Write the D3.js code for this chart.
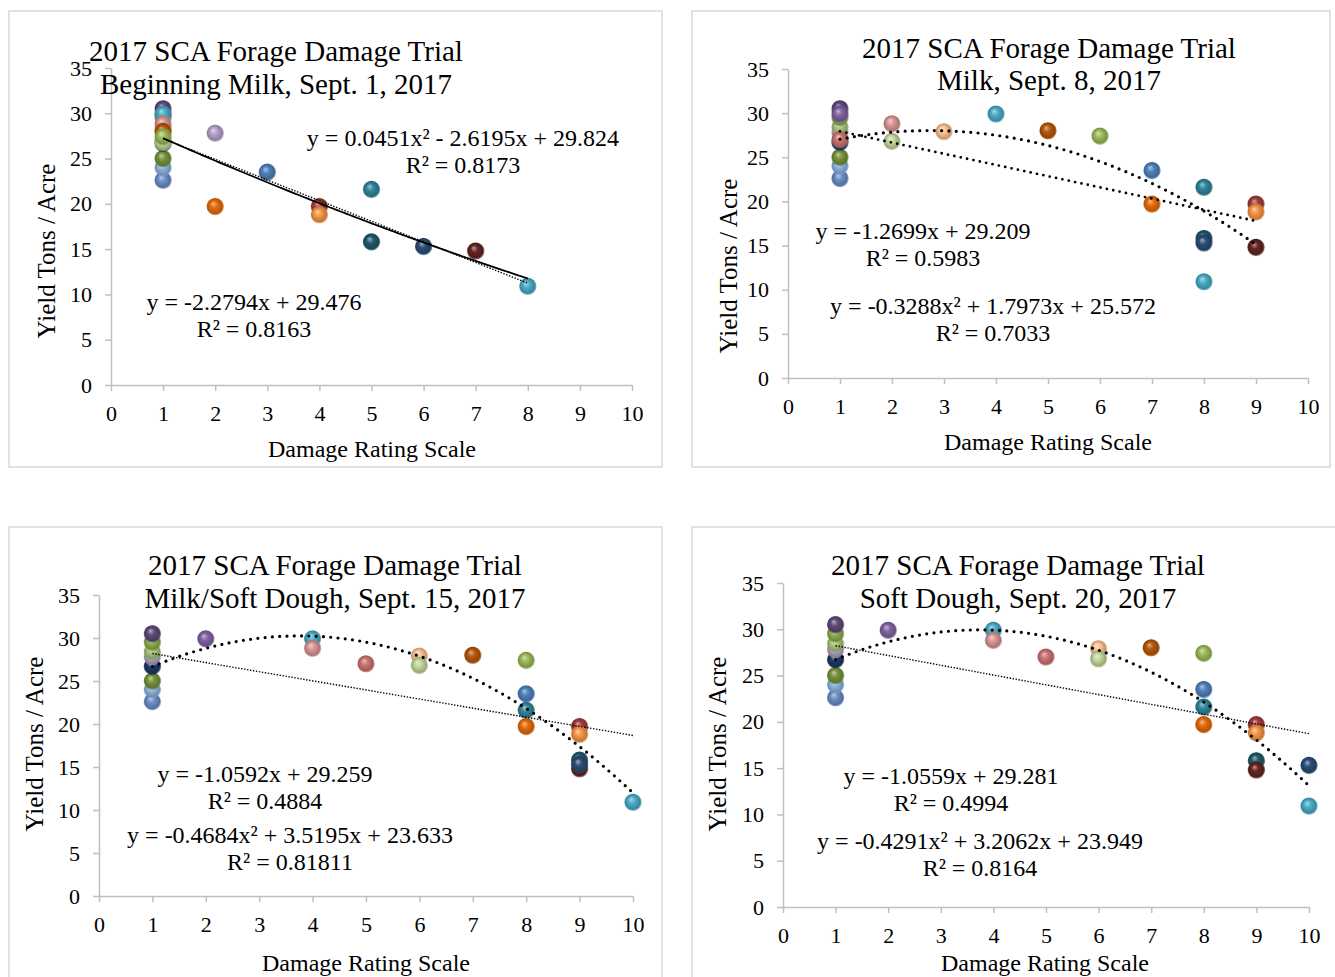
<!DOCTYPE html>
<html><head><meta charset="utf-8">
<script src="https://cdn.jsdelivr.net/npm/d3@7/dist/d3.min.js"></script>
<style>
body{margin:0;background:#fff;}
svg{display:block;font-family:"Liberation Serif","Times New Roman",serif;}
</style>
</head><body>
<svg id="c" width="1335" height="977"></svg>
<script>
// ---- data ----
const plotYields = [22.6, 24.0, 25.0, 26.7, 27.8, 28.4, 29.5, 30.5, 29.9, 29.9, 28.8, 27.0, 27.9, 26.8, 28.0, 27.4, 23.5, 21.6, 19.7, 19.7, 18.8, 15.8, 14.8, 15.3, 10.9];
const plotColors = ["#6A8FC4","#8EB4E3","#77933C","#1F3864","#B3A2C7","#A9C47F","#8FAE4F","#5F497A","#8064A2","#4BACC6","#D99694","#CD7371","#FAC090","#C3D69B","#B65708","#9BBB59","#4F81BD","#31849B","#E46C0A","#A33B38","#F79646","#215968","#632523","#2C4D75","#4BACC6"];
const ratingSep1  = [1,1,1,1,2,1,1,1,1,1,1,1,1,1,1,1,3,5,2,4,4,5,7,6,8];
const ratingSep8  = [1,1,1,1,1,1,1,1,1,4,2,1,3,2,5,6,7,8,7,9,9,8,9,8,8];
const ratingSep15 = [1,1,1,1,1,1,1,1,2,4,4,5,6,6,7,8,8,8,8,9,9,9,9,9,10];
const ratingSep20 = [1,1,1,1,1,1,1,1,2,4,4,5,6,6,7,8,8,8,8,9,9,9,9,10,10];
const xTicks = [0,1,2,3,4,5,6,7,8,9,10];
const yTicks = [0,5,10,15,20,25,30,35];
const titleLine1 = "2017 SCA Forage Damage Trial";
const titleLine2 = ["Beginning Milk, Sept. 1, 2017","Milk, Sept. 8, 2017","Milk/Soft Dough, Sept. 15, 2017","Soft Dough, Sept. 20, 2017"];
const linCoef  = [[-2.2794,29.476],[-1.2699,29.209],[-1.0592,29.259],[-1.0559,29.281]];
const polyCoef = [[0.0451,-2.6195,29.824],[-0.3288,1.7973,25.572],[-0.4684,3.5195,23.633],[-0.4291,3.2062,23.949]];
const linEq  = ["y = -2.2794x + 29.476","y = -1.2699x + 29.209","y = -1.0592x + 29.259","y = -1.0559x + 29.281"];
const linR2  = ["R² = 0.8163","R² = 0.5983","R² = 0.4884","R² = 0.4994"];
const polyEq = ["y = 0.0451x² - 2.6195x + 29.824","y = -0.3288x² + 1.7973x + 25.572","y = -0.4684x² + 3.5195x + 23.633","y = -0.4291x² + 3.2062x + 23.949"];
const polyR2 = ["R² = 0.8173","R² = 0.7033","R² = 0.81811","R² = 0.8164"];
const fitRange = [[1,8],[1,9],[1,10],[1,10]];
const xLabel = "Damage Rating Scale";
const yLabel = "Yield Tons / Acre";

// ---- layout ----
const ratings = [ratingSep1, ratingSep8, ratingSep15, ratingSep20];
const panels = [
  {frame:[9,11,653,456], x0:111, x1:632, yT:68, yB:385, tx:276, t1:61, t2:94, xl:[372,457], yl:[55,251],
   lin:[254,302], poly:[463,138], polySolid:true, linRound:false},
  {frame:[692,11,638,456], x0:788, x1:1308, yT:69, yB:378, tx:1049, t1:58, t2:90, xl:[1048,450], yl:[737,266],
   lin:[923,231], poly:[993,306], polySolid:false, linRound:true},
  {frame:[9,527,653,500], x0:99, x1:633, yT:595, yB:896, tx:335, t1:575, t2:608, xl:[366,971], yl:[43,744],
   lin:[265,774], poly:[290,835], polySolid:false, linRound:false},
  {frame:[692,527,660,500], x0:783, x1:1309, yT:583, yB:907, tx:1018, t1:575, t2:608, xl:[1045,971], yl:[726,744],
   lin:[951,776], poly:[980,841], polySolid:false, linRound:false}
];

const svg = d3.select("#c");
const defs = svg.append("defs");
defs.append("filter").attr("id","soft").attr("x","-20%").attr("y","-20%").attr("width","140%").attr("height","140%")
  .append("feGaussianBlur").attr("stdDeviation",0.5);
plotColors.forEach((c,i)=>{
  const g = defs.append("radialGradient").attr("id","g"+i)
    .attr("cx","50%").attr("cy","50%").attr("r","50%").attr("fx","38%").attr("fy","32%");
  g.append("stop").attr("offset","0%").attr("stop-color", d3.interpolateRgb(c,"#ffffff")(0.55));
  g.append("stop").attr("offset","40%").attr("stop-color", c);
  g.append("stop").attr("offset","85%").attr("stop-color", d3.rgb(c).darker(0.7));
  g.append("stop").attr("offset","100%").attr("stop-color", d3.rgb(c).darker(0.2)).attr("stop-opacity",0.5);
});

panels.forEach((p,k)=>{
  const G = svg.append("g");
  G.append("rect").attr("x",p.frame[0]).attr("y",p.frame[1]).attr("width",p.frame[2]).attr("height",p.frame[3])
    .attr("fill","#fff").attr("stroke","#d9d9d9").attr("stroke-width",1.5);
  const x = d3.scaleLinear().domain([0,10]).range([p.x0,p.x1]);
  const y = d3.scaleLinear().domain([0,35]).range([p.yB,p.yT]);

  const ax = G.append("g").attr("transform",`translate(0,${p.yB})`)
    .call(d3.axisBottom(x).tickValues(xTicks).tickSize(6).tickPadding(14).tickSizeOuter(0));
  const ay = G.append("g").attr("transform",`translate(${p.x0},0)`)
    .call(d3.axisLeft(y).tickValues(yTicks).tickSize(6).tickPadding(13).tickSizeOuter(0));
  [ax,ay].forEach(a=>{
    a.select(".domain").attr("stroke","#bfbfbf").attr("stroke-width",1.5);
    a.selectAll(".tick line").attr("stroke","#bfbfbf").attr("stroke-width",1.5);
    a.selectAll("text").attr("font-size",22).attr("fill","#000").attr("font-family","Liberation Serif, Times New Roman, serif");
  });

  // points
  const pts = plotYields.map((v,i)=>({x:ratings[k][i], y:v, i}));
  G.append("g").selectAll("circle").data(pts).join("circle")
    .attr("cx",d=>x(d.x)).attr("cy",d=>y(d.y)).attr("r",8.8)
    .attr("fill",d=>`url(#g${d.i})`).attr("filter","url(#soft)");

  // trendlines
  const [a,b] = fitRange[k];
  const xs = d3.range(0,201).map(t=>a+(b-a)*t/200);
  const lc = linCoef[k], pc = polyCoef[k];
  const line = d3.line().x(d=>x(d[0])).y(d=>y(d[1]));
  const linPts = xs.map(v=>[v, lc[0]*v+lc[1]]);
  const polyPts = xs.map(v=>[v, pc[0]*v*v+pc[1]*v+pc[2]]);
  const lp = G.append("path").attr("d",line(linPts)).attr("fill","none").attr("stroke","#000");
  if (p.linRound) lp.attr("stroke-width",2.8).attr("stroke-dasharray","0,6.5").attr("stroke-linecap","round");
  else lp.attr("stroke-width",1.4).attr("stroke-dasharray","1.4,1.6");
  const pp = G.append("path").attr("d",line(polyPts)).attr("fill","none").attr("stroke","#000");
  if (p.polySolid) pp.attr("stroke-width",1.8);
  else pp.attr("stroke-width",3.2).attr("stroke-dasharray","0,7.3").attr("stroke-linecap","round");

  // titles
  G.append("text").attr("x",p.tx).attr("y",p.t1).attr("text-anchor","middle").attr("font-size",29).text(titleLine1);
  G.append("text").attr("x",p.tx).attr("y",p.t2).attr("text-anchor","middle").attr("font-size",29).text(titleLine2[k]);
  // axis titles
  G.append("text").attr("x",p.xl[0]).attr("y",p.xl[1]).attr("text-anchor","middle").attr("font-size",24).text(xLabel);
  G.append("text").attr("transform",`translate(${p.yl[0]},${p.yl[1]}) rotate(-90)`).attr("text-anchor","middle").attr("font-size",25).text(yLabel);
  // equations
  const eq = (pos,t1,t2)=>{
    G.append("text").attr("x",pos[0]).attr("y",pos[1]+8).attr("text-anchor","middle").attr("font-size",24).text(t1);
    G.append("text").attr("x",pos[0]).attr("y",pos[1]+35).attr("text-anchor","middle").attr("font-size",24).text(t2);
  };
  eq(p.lin, linEq[k], linR2[k]);
  eq(p.poly, polyEq[k], polyR2[k]);
});
</script>
</body></html>
